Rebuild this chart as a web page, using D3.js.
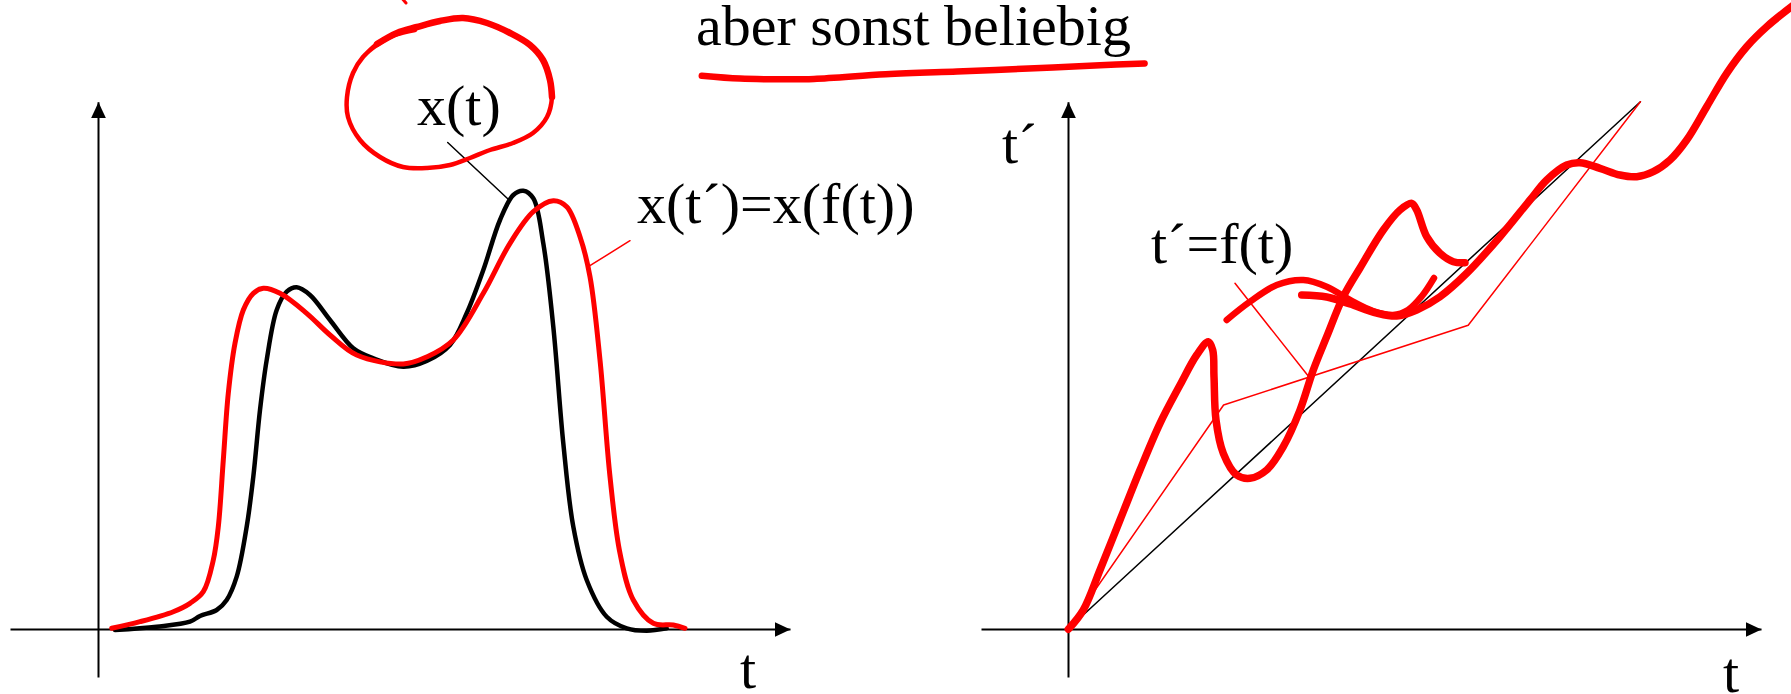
<!DOCTYPE html>
<html>
<head>
<meta charset="utf-8">
<script src="https://cdn.jsdelivr.net/npm/d3@7"></script>
<style>
  html, body { margin: 0; padding: 0; background: #fff; }
  svg { display: block; }
  text { font-family: "Liberation Serif", "Times New Roman", serif; }
</style>
</head>
<body>
<div id="chart"></div>
<script>
// ---- data (t in tenths of the panel grid) ----
// left panel: signal x(t) and its warped copy x(t') = x(f(t))
const xOfT = [
  [1.7, -0.1], [5.87, 0.23], [9.2, 0.73], [10.2, 1.3], [11.87, 1.9], [12.87, 2.9],
  [13.87, 5.23], [14.87, 10.23], [15.53, 15.23], [16.2, 21.9], [16.87, 26.9],
  [17.87, 31.9], [18.87, 33.73], [19.87, 34.17], [21.2, 33.4], [23.2, 30.9],
  [25.53, 28.07], [27.53, 27.07], [30.53, 26.23], [32.87, 26.8], [35.2, 28.4],
  [36.87, 31.57], [38.53, 35.9], [40.2, 40.9], [41.53, 43.4], [42.53, 43.83],
  [43.53, 43.07], [44.53, 38.57], [45.53, 30.23], [46.53, 18.57], [47.53, 10.23],
  [48.87, 4.9], [50.87, 1.23], [52.87, 0.07], [54.87, -0.17], [56.87, 0.07]
];
const xOfTPrime = [
  [1.37, 0.07], [4.2, 0.73], [7.53, 1.73], [9.2, 2.57], [10.53, 3.73], [11.53, 6.9],
  [12.03, 10.23], [12.53, 16.9], [13.03, 23.57], [13.7, 28.57], [14.53, 31.9],
  [15.53, 33.57], [16.53, 34.07], [18.2, 33.57], [20.87, 31.57], [23.2, 29.4],
  [25.87, 27.4], [30.53, 26.5], [32.87, 27.2], [35.53, 28.9], [38.53, 33.57],
  [41.2, 38.57], [43.53, 41.73], [45.53, 42.83], [46.87, 42.23], [48.2, 39.23],
  [49.2, 35.23], [50.2, 26.9], [51.2, 15.23], [52.2, 7.57], [53.53, 2.9],
  [55.53, 0.57], [57.53, 0.4], [58.7, 0.07]
];

// right panel: warping functions t' = f(t)
const warpIdentity = [[0, 0], [57.24, 52.72]];
const warpPiecewise = [[0, 0], [15.56, 22.4], [40.02, 30.37], [57.24, 52.72]];
const warpSketchA = [
  [0.03, -0.03], [1.53, 1.9], [3.2, 5.9], [5.2, 10.9], [7.2, 15.9], [9.2, 20.57],
  [11.2, 24.4], [12.87, 27.4], [14.03, 28.73], [14.47, 27.9], [14.6, 25.23],
  [14.8, 20.9], [15.53, 17.57], [16.87, 15.4], [18.2, 15.07], [19.87, 15.9],
  [21.53, 18.23], [23.2, 21.9], [24.53, 25.9], [25.87, 29.23], [27.53, 33.23],
  [29.2, 36.1], [31.53, 39.9], [33.2, 41.9], [34.37, 42.57], [34.87, 41.9],
  [35.87, 39.23], [37.2, 37.57], [38.53, 36.73], [39.7, 36.63]
];
const warpSketchB = [
  [15.87, 30.9], [18.2, 32.73], [20.87, 34.4], [23.53, 34.9], [25.87, 34.23],
  [28.2, 32.9], [30.5, 31.8], [32.5, 31.4], [34.0, 31.9], [35.4, 33.3], [36.6, 35.1]
];
const warpSketchC = [
  [23.37, 33.4], [25.87, 33.2], [28.2, 32.5], [30.87, 31.6], [32.87, 31.3],
  [34.87, 31.9], [37.2, 33.23], [39.87, 35.57], [43.2, 39.23], [46.2, 42.9],
  [47.87, 44.9], [49.87, 46.4], [51.2, 46.63], [53.2, 46.07], [55.2, 45.4],
  [56.87, 45.23], [58.53, 45.73], [60.2, 46.9], [61.87, 48.9], [63.87, 52.23],
  [65.87, 55.57], [67.87, 58.23], [69.87, 60.23], [72.7, 62.5]
];

// hand-drawn marks (left panel units)
const circleSketch = [
  [26.5, 57.2], [27.9, 58.5], [29.9, 59.6], [31.9, 60.2], [34.2, 60.8], [36.5, 61.1],
  [38.9, 60.6], [41.2, 59.6], [43.2, 58.4], [44.5, 56.9], [45.2, 54.9], [45.4, 53.2],
  [44.9, 51.2], [43.5, 49.6], [41.5, 48.6], [39.2, 47.9], [37.2, 47.1], [35.2, 46.4],
  [32.9, 46.1], [30.5, 46.2], [28.2, 47.2], [26.2, 48.9], [25.0, 51.2], [24.9, 53.2],
  [25.5, 55.6], [26.5, 57.2], [27.9, 58.4], [29.7, 59.4], [31.7, 59.9]
];
// heavier pressure on the upper right of the loop
const circleHeavy = [
  [27.9, 58.5], [29.9, 59.6], [31.9, 60.2], [34.2, 60.8], [36.5, 61.1],
  [38.9, 60.6], [41.2, 59.6], [43.2, 58.4], [44.5, 56.9], [45.2, 54.9], [45.4, 53.2]
];
const underlineSketch = [
  [60.38, 55.33], [64.2, 55.04], [68.05, 54.97], [71.6, 55.0], [78.77, 55.47],
  [85.9, 55.76], [93.06, 56.04], [100.2, 56.37], [104.66, 56.55]
];
const topTick = [[30.5, 62.95], [30.8, 62.6]];

// leader lines and labels
const leaderXt = [[34.97, 48.65], [41.0, 43.0]];
const leaderXtp = [[49.03, 36.23], [53.2, 38.83]];
const leaderWarp = [[16.7, 34.57], [24.2, 25.07]];
const leftLabels = [
  { text: "aber sonst beliebig", t: 59.8, v: 58.4 },
  { text: "x(t)", t: 31.9, v: 50.4 },
  { text: "x(t\u00B4)=x(f(t))", t: 53.9, v: 40.6 },
  { text: "t", t: 64.2, v: -5.9 }
];
const rightLabels = [
  { text: "t\u00B4", t: -6.6, v: 46.6 },
  { text: "t\u00B4=f(t)", t: 8.3, v: 36.6 },
  { text: "t", t: 65.5, v: -6.3 }
];

// ---- layout ----
const width = 1791, height = 694;
const svg = d3.select("#chart").append("svg")
  .attr("width", width).attr("height", height)
  .style("background", "#fff");

svg.append("defs").append("marker")
  .attr("id", "arrow")
  .attr("viewBox", "0 0 16 15")
  .attr("refX", 16).attr("refY", 7.5)
  .attr("markerWidth", 16).attr("markerHeight", 15)
  .attr("markerUnits", "userSpaceOnUse")
  .attr("orient", "auto")
  .append("path").attr("d", "M0,0L16,7.5L0,15Z").attr("fill", "#000");

const tLeft = d3.scaleLinear().domain([-8.8, 69.2]).range([10, 790]);
const tRight = d3.scaleLinear().domain([-8.7, 69.3]).range([981, 1761]);
const yVal = d3.scaleLinear().domain([-4.8, 52.72]).range([677, 101.8]);

function drawAxes(tScale) {
  const gx = svg.append("g")
    .attr("transform", `translate(0,${yVal(0)})`)
    .call(d3.axisBottom(tScale).tickValues([]).tickSizeOuter(0));
  gx.select(".domain").attr("stroke", "#000").attr("stroke-width", 2)
    .attr("marker-end", "url(#arrow)");
  const gy = svg.append("g")
    .attr("transform", `translate(${tScale(0)},0)`)
    .call(d3.axisLeft(yVal).tickValues([]).tickSizeOuter(0));
  gy.select(".domain").attr("stroke", "#000").attr("stroke-width", 2)
    .attr("marker-end", "url(#arrow)");
}

function lineFor(tScale, curve) {
  return d3.line()
    .x(d => tScale(d[0]))
    .y(d => yVal(d[1]))
    .curve(curve || d3.curveCatmullRom.alpha(0.5));
}

function stroke(data, tScale, color, w, curve) {
  svg.append("path")
    .datum(data)
    .attr("d", lineFor(tScale, curve))
    .attr("fill", "none")
    .attr("stroke", color)
    .attr("stroke-width", w)
    .attr("stroke-linecap", "round")
    .attr("stroke-linejoin", "round");
}

function labels(list, tScale) {
  svg.append("g").selectAll("text")
    .data(list)
    .join("text")
    .attr("x", d => tScale(d.t))
    .attr("y", d => yVal(d.v))
    .attr("font-size", 58)
    .attr("fill", "#000")
    .text(d => d.text);
}

// left panel
drawAxes(tLeft);
stroke(leaderXt, tLeft, "#000", 1.5, d3.curveLinear);
stroke(leaderXtp, tLeft, "#ff0000", 1.5, d3.curveLinear);
stroke(xOfT, tLeft, "#000", 4.5);
stroke(xOfTPrime, tLeft, "#ff0000", 5);
labels(leftLabels, tLeft);
stroke(circleSketch, tLeft, "#ff0000", 4.5);
stroke(circleHeavy, tLeft, "#ff0000", 6.5);
stroke(underlineSketch, tLeft, "#ff0000", 6.5);
stroke(topTick, tLeft, "#ff0000", 3, d3.curveLinear);

// right panel
drawAxes(tRight);
stroke(warpIdentity, tRight, "#000", 1.5, d3.curveLinear);
stroke(warpPiecewise, tRight, "#ff0000", 1.5, d3.curveLinear);
stroke(leaderWarp, tRight, "#ff0000", 1.5, d3.curveLinear);
labels(rightLabels, tRight);
stroke(warpSketchA, tRight, "#ff0000", 7.5);
stroke(warpSketchB, tRight, "#ff0000", 6.5);
stroke(warpSketchC, tRight, "#ff0000", 7.5);
</script>
</body>
</html>
